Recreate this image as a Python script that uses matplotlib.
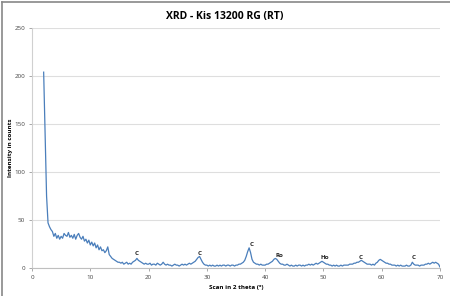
import matplotlib
matplotlib.use("Agg")
import matplotlib.pyplot as plt
from matplotlib.lines import Line2D
import numpy as np

# scan start / step in 2 theta
scan_start = 2.0
scan_step = 0.25

# intensity in counts, 4 points per degree from 2.0 to 70.0
intensity = [
    204, 140, 75, 47,   # 2
    43, 40, 38, 33,     # 3
    36, 31, 34, 30,     # 4
    33, 31, 36, 34,     # 5
    33, 37, 32, 34,     # 6
    31, 35, 30, 34,     # 7
    36, 32, 30, 33,     # 8
    28, 30, 26, 29,     # 9
    24, 27, 23, 26,     # 10
    21, 24, 19, 22,     # 11
    18, 19, 16, 18,     # 12
    22, 14, 12, 10,     # 13
    9, 8, 7, 6,         # 14
    6, 5, 6, 4,         # 15
    5, 6, 4, 5,         # 16
    4, 6, 7, 8,         # 17
    10, 8, 7, 6,        # 18
    5, 4, 5, 4,         # 19
    4, 5, 3, 4,         # 20
    4, 3, 5, 4,         # 21
    3, 4, 6, 4,         # 22
    3, 4, 3, 3,         # 23
    2, 3, 4, 3,         # 24
    3, 2, 3, 4,         # 25
    3, 4, 3, 4,         # 26
    5, 4, 5, 6,         # 27
    7, 9, 11, 12,       # 28
    9, 6, 4, 3,         # 29
    3, 2, 3, 2,         # 30
    3, 2, 2, 3,         # 31
    2, 3, 2, 3,         # 32
    3, 2, 3, 3,         # 33
    2, 3, 3, 2,         # 34
    3, 3, 4, 4,         # 35
    5, 6, 8, 12,        # 36
    17, 21, 16, 9,      # 37
    6, 5, 4, 4,         # 38
    3, 4, 3, 3,         # 39
    3, 4, 4, 5,         # 40
    6, 7, 9, 10,        # 41
    9, 7, 5, 4,         # 42
    4, 3, 3, 4,         # 43
    3, 2, 3, 2,         # 44
    2, 3, 2, 3,         # 45
    3, 2, 3, 2,         # 46
    3, 3, 4, 3,         # 47
    4, 3, 4, 5,         # 48
    4, 5, 6, 7,         # 49
    6, 5, 4, 4,         # 50
    3, 3, 2, 3,         # 51
    2, 3, 2, 2,         # 52
    3, 2, 3, 3,         # 53
    3, 3, 4, 4,         # 54
    4, 5, 5, 6,         # 55
    6, 7, 8, 7,         # 56
    6, 5, 4, 4,         # 57
    4, 3, 4, 3,         # 58
    5, 6, 8, 9,         # 59
    8, 7, 6, 5,         # 60
    5, 4, 4, 3,         # 61
    3, 3, 2, 3,         # 62
    2, 3, 2, 2,         # 63
    2, 3, 2, 2,         # 64
    3, 6, 4, 3,         # 65
    3, 3, 2, 3,         # 66
    3, 3, 4, 4,         # 67
    5, 4, 5, 6,         # 68
    5, 6, 5, 4,         # 69
    1,                  # 70
]

# phase labels on the peaks
peak_labels = ["C", "C", "C", "Ro", "Ho", "C", "C"]
peak_x = [18.0, 28.8, 37.6, 42.4, 50.3, 56.4, 65.4]
peak_y = [15.5, 15.5, 25, 13.5, 10.5, 10.5, 10.5]

two_theta = scan_start + scan_step * np.arange(len(intensity))

plt.rcParams['font.family'] = ['Open Sans', 'DejaVu Sans']

fig = plt.figure(figsize=(4.5, 2.96), dpi=100)
ax = fig.add_axes([32 / 450, 1 - 268 / 296, 408 / 450, 240 / 296])

ax.plot(two_theta, intensity, color="#4a7ebb", lw=0.9)

for lab, px, py in zip(peak_labels, peak_x, peak_y):
    ax.text(px, py, lab, fontsize=4.5, fontweight="bold", ha="center", va="center", color="#222222")

ax.set_xlim(0, 70)
ax.set_ylim(0, 250)
ax.set_xticks(range(0, 71, 10))
ax.set_yticks(range(0, 251, 50))
ax.grid(axis="y", color="#dedede", lw=0.8)
ax.set_axisbelow(True)
for side in ["top", "right"]:
    ax.spines[side].set_visible(False)
ax.spines["left"].set_color("#d0d0d0")
ax.spines["bottom"].set_color("#bfbfbf")
ax.spines["left"].set_linewidth(0.8)
ax.spines["bottom"].set_linewidth(0.8)
ax.tick_params(axis="both", labelsize=4.5, colors="#9a9a9a", labelcolor="#444444", length=2, width=0.6, pad=3)

ax.set_xlabel("Scan in 2 theta (°)", fontsize=4.5, fontweight="bold")
ax.set_ylabel("Intensity in counts", fontsize=4.5, fontweight="bold")
ax.xaxis.set_label_coords(0.5, -17 / 240)
ax.yaxis.set_label_coords(-19 / 408, 0.5)
fig.text(0.5, 1 - 16 / 296, "XRD - Kis 13200 RG (RT)", fontsize=7.5, fontweight="bold", ha="center", va="center")

# chart border (left and top visible)
fig.add_artist(Line2D([1.5 / 450, 1.5 / 450], [0, 1 - 2 / 296], transform=fig.transFigure, color="#888888", lw=1.2))
fig.add_artist(Line2D([1.5 / 450, 1], [1 - 2 / 296, 1 - 2 / 296], transform=fig.transFigure, color="#888888", lw=1.2))

fig.savefig("out.png", dpi=100)
